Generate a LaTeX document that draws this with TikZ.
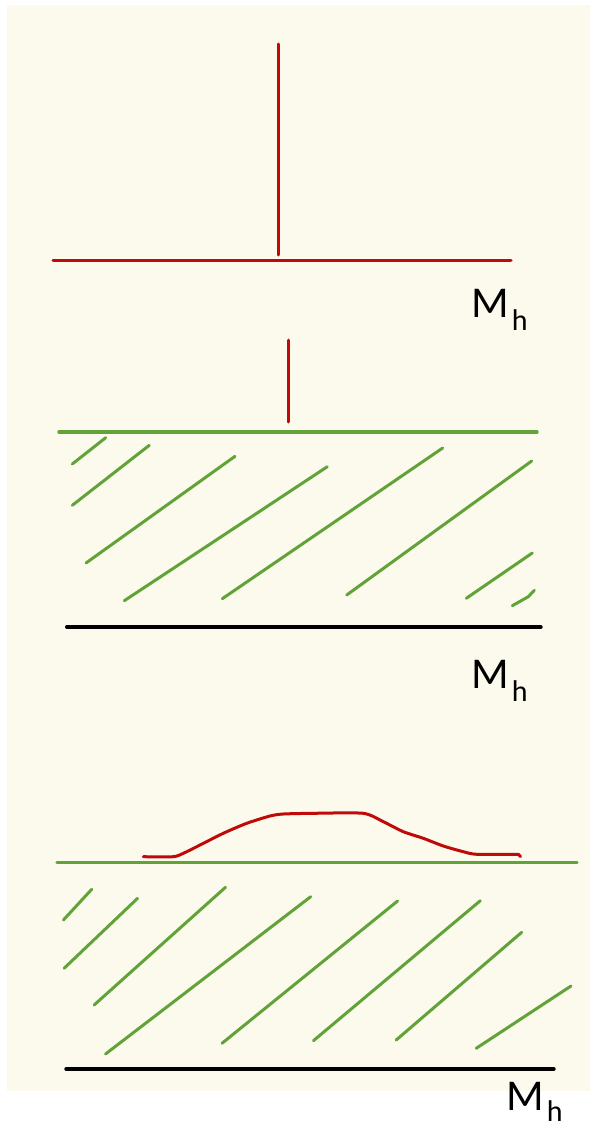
\documentclass[tikz,border=0pt]{standalone}
\usepackage{fontspec}
\setmainfont{Carlito}
\definecolor{cream}{RGB}{252,250,236}
\definecolor{dred}{RGB}{192,10,10}
\definecolor{lgreen}{RGB}{98,163,57}
\tikzset{
  redline/.style={draw=dred, line width=3pt, line cap=round},
  grnline/.style={draw=lgreen, line width=3.4pt, line cap=round},
  hatchline/.style={draw=lgreen, line width=3pt, line cap=round},
  blkline/.style={draw=black, line width=3.4pt, line cap=round},
  lbl/.style={anchor=base west, inner sep=0pt, font=\fontsize{44}{44}\selectfont}
}
\newcommand{\mhlabel}[1][13pt]{M\kern3pt\raisebox{-#1}{\fontsize{30}{30}\selectfont h}}
\begin{document}
\begin{tikzpicture}[x=1pt,y=-1pt]
\useasboundingbox (0,0) rectangle (590,1124);
\fill[white] (0,0) rectangle (590,1124);
\fill[cream] (7,5) rectangle (590,1091);

% ---------- top panel ----------
\draw[redline] (278,44) -- (278,255);
\draw[redline] (53,260) -- (511,260);
\node[lbl] (mh1) at (471,317) {\mhlabel};

% ---------- middle panel ----------
\draw[redline] (288,340) -- (288,422);
\draw[grnline] (59,432) -- (537,432);
\draw[hatchline] (72.3,464) -- (105.7,437.7);
\draw[hatchline] (72.3,505.3) -- (149.3,445.3);
\draw[hatchline] (86,563) -- (235,456.3);
\draw[hatchline] (124.3,600.7) -- (327.3,466.7);
\draw[hatchline] (222.3,598.7) -- (442.7,448);
\draw[hatchline] (346.7,595) -- (531.7,461);
\draw[hatchline] (466.3,598.3) -- (532.3,553);
\draw[hatchline] (512.3,605.7) -- (528.3,596.7) -- (534.3,590.3);
\draw[blkline] (66.7,627) -- (541,627);
\node[lbl] (mh2) at (471,688) {\mhlabel};

% ---------- bottom panel ----------
\draw[redline, line join=round] plot[smooth, tension=0.4] coordinates {
  (143.3,856.7) (173.3,856.7) (183.3,853.3) (196.7,846.7) (223.3,833.3)
  (246.7,823.3) (270,816) (283.3,814) (313.3,813.3) (363.3,813.3)
  (383.3,821.7) (403.3,831.7) (423.3,838.3) (443.3,846) (463.3,851.7)
  (476.7,854.3) (518.3,854.3)} -- (520.5,856.5);
\draw[grnline] (57,862.5) -- (577,862.5);
\draw[hatchline] (63.4,920) -- (91.7,889.3);
\draw[hatchline] (64.1,968.3) -- (137.6,898.3);
\draw[hatchline] (94.1,1005) -- (225.5,887.3);
\draw[hatchline] (105.5,1054) -- (310.7,896.7);
\draw[hatchline] (222,1043.3) -- (397.6,901);
\draw[hatchline] (313.4,1040.7) -- (480.3,900.7);
\draw[hatchline] (396.2,1040) -- (521.7,932.3);
\draw[hatchline] (476.2,1048.3) -- (571,986);
\draw[blkline] (66,1069) -- (554,1069);
\node[lbl] (mh3) at (506,1110) {\mhlabel[11pt]};
\end{tikzpicture}
\end{document}
